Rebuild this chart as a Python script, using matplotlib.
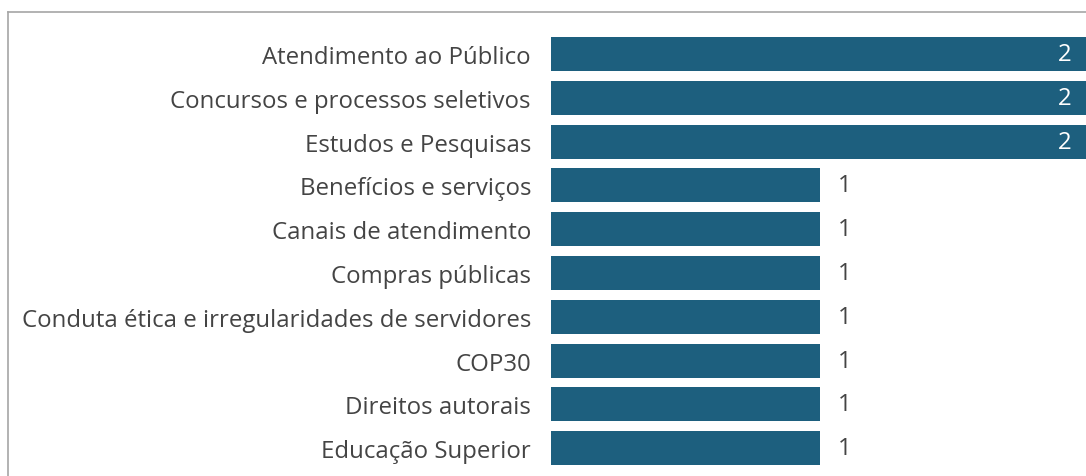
import matplotlib.pyplot as plt
from matplotlib.lines import Line2D

# Chart data
categories = [
    "Atendimento ao Público",
    "Concursos e processos seletivos",
    "Estudos e Pesquisas",
    "Benefícios e serviços",
    "Canais de atendimento",
    "Compras públicas",
    "Conduta ética e irregularidades de servidores",
    "COP30",
    "Direitos autorais",
    "Educação Superior",
]
counts = [2, 2, 2, 1, 1, 1, 1, 1, 1, 1]

bar_color = "#1d5f7e"
text_color = "#444444"
W, H = 1086, 477

plt.rcParams['font.family'] = ['Open Sans', 'DejaVu Sans']
fs = 17.3

fig = plt.figure(figsize=(W / 100, H / 100), dpi=100)

# axes placed so bars start at x=551px and fill the whole height
ax = fig.add_axes([551 / W, 0, (W - 551) / W, 1])
pitch = 43.8
first_center = 55
ax.set_ylim((H - first_center) / pitch, -first_center / pitch)
ax.set_xlim(0, (W - 551) / 269)

ypos = list(range(len(categories)))
ax.barh(ypos, counts, height=0.78, color=bar_color)

max_val = max(counts)
for y, v in zip(ypos, counts):
    if v == max_val:
        # label inside the bar, near the cut-off edge
        ax.annotate(str(v), xy=(ax.get_xlim()[1], y), xytext=(-14, 0),
                    textcoords="offset pixels", ha="right", va="center",
                    color="white", fontsize=fs)
    else:
        ax.annotate(str(v), xy=(v, y), xytext=(18, 0),
                    textcoords="offset pixels", ha="left", va="center",
                    color=text_color, fontsize=fs)

ax.set_yticks(ypos)
ax.set_yticklabels(categories, fontsize=fs, color=text_color)
ax.tick_params(axis="y", length=0, pad=14.4)
ax.set_xticks([])
for s in ax.spines.values():
    s.set_visible(False)

# outer frame (top and left only visible in the crop)
fig.add_artist(Line2D([8 / W, 1], [1 - 13 / H, 1 - 13 / H], color="#a6a6a6", lw=1.2))
fig.add_artist(Line2D([8 / W, 8 / W], [0, 1 - 13 / H], color="#a6a6a6", lw=1.2))

fig.savefig("out.png", dpi=100)
